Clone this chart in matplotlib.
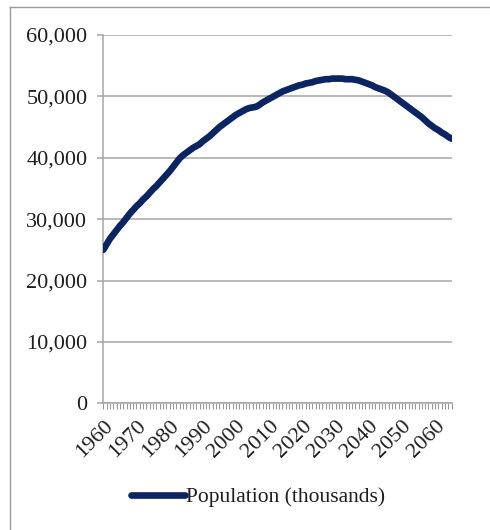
import matplotlib
matplotlib.use("Agg")
import matplotlib.pyplot as plt
from matplotlib.lines import Line2D
from matplotlib.ticker import FuncFormatter, MultipleLocator

plt.rcParams['font.family'] = ['Liberation Serif', 'DejaVu Serif']

# Annual population, thousands
years = list(range(1960, 2066))
population = [
    25000, 25900, 26800, 27500, 28200, 28900, 29500, 30200, 30900, 31500,
    32100, 32600, 33200, 33700, 34300, 34900, 35400, 36000, 36600, 37200,
    37800, 38500, 39200, 39900, 40400, 40800, 41200, 41600, 41900, 42200,
    42700, 43100, 43500, 44000, 44500, 45000, 45400, 45800, 46200, 46600,
    47000, 47300, 47600, 47900, 48100, 48200, 48300, 48600, 49000, 49300,
    49600, 49900, 50200, 50500, 50800, 51000, 51200, 51400, 51600, 51800,
    51900, 52100, 52200, 52300, 52500, 52600, 52700, 52800, 52800, 52900,
    52900, 52900, 52900, 52800, 52800, 52800, 52700, 52600, 52400, 52200,
    52000, 51800, 51500, 51300, 51100, 50900, 50600, 50200, 49800, 49400,
    49000, 48600, 48200, 47800, 47400, 47000, 46600, 46100, 45600, 45200,
    44800, 44500, 44100, 43800, 43400, 43100,
]
series_label = "Population (thousands)"
y_ticks = [0, 10000, 20000, 30000, 40000, 50000, 60000]

W, H = 490, 530
fig = plt.figure(figsize=(W / 100, H / 100), dpi=100)
ax = fig.add_axes([103.3 / W, 1 - 403.3 / H, (451.7 - 103.3) / W, (403.3 - 35) / H])

grid_c = "#a6a6a6"
line_c = "#0b2462"
text_c = "#1e1e1e"

line, = ax.plot(years, population, color=line_c, lw=4.8,
                solid_capstyle="round", solid_joinstyle="round",
                label=series_label, zorder=3)

ax.set_xlim(years[0], years[-1])
ax.set_ylim(y_ticks[0], y_ticks[-1])
ax.set_yticks(y_ticks)
ax.yaxis.set_major_formatter(FuncFormatter(lambda v, p: f"{int(v):,}"))
ax.grid(axis="y", color=grid_c, lw=1.1)
ax.set_axisbelow(True)

ax.xaxis.set_major_locator(MultipleLocator(10))
ax.xaxis.set_minor_locator(MultipleLocator(1))
ax.tick_params(axis="x", which="both", direction="out", length=4.5,
               width=0.8, color="#999999", labelsize=16, pad=5)
ax.tick_params(axis="y", direction="out", length=4.5, width=1.1,
               color=grid_c, labelsize=16, pad=7, labelcolor=text_c)
for lab in ax.get_xticklabels():
    lab.set_rotation(45)
    lab.set_ha("right")
    lab.set_va("top")
    lab.set_rotation_mode("anchor")
    lab.set_color(text_c)

for s in ("top", "right"):
    ax.spines[s].set_visible(False)
for s in ("left", "bottom"):
    ax.spines[s].set_color(grid_c)
    ax.spines[s].set_linewidth(1.1)

# outer chart frame
fig.add_artist(Line2D([10 / W, 10 / W], [0, 1 - 7 / H], transform=fig.transFigure,
                      color="#9a9a9a", lw=1.0))
fig.add_artist(Line2D([10 / W, 1], [1 - 7 / H, 1 - 7 / H], transform=fig.transFigure,
                      color="#9a9a9a", lw=1.0))

leg = fig.legend(handles=[line], loc="center", bbox_to_anchor=(258 / W, 1 - 497 / H),
                 frameon=False, handlelength=2.5, handletextpad=0.05,
                 fontsize=15.5)
for t in leg.get_texts():
    t.set_color(text_c)

fig.savefig("out.png", dpi=100)
